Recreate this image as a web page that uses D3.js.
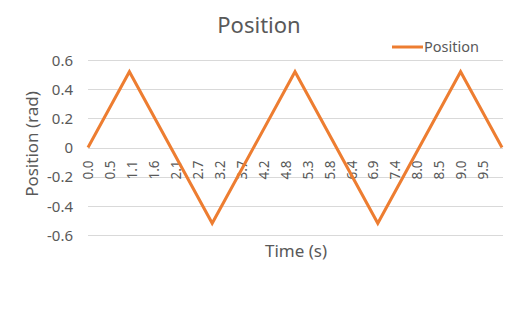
<!DOCTYPE html>
<meta charset="utf-8">
<html>
<head>
<title>Position</title>
<style>
  body { margin: 0; background: #fff; }
  svg text { font-family: "Noto Sans", "Open Sans", sans-serif; fill: #595959; }
</style>
</head>
<body>
<div id="chart"></div>
<script src="https://d3js.org/d3.v7.min.js"></script>
<script>
// time (s) at each corner of the position trace
var times = [0, 1, 3, 5, 7, 9, 10];
// position (rad)
var positions = [0, 0.52, -0.52, 0.52, -0.52, 0.52, 0];

// category labels shown along the x axis and the times they sit at
var tickTimes = [0.00, 0.53, 1.06, 1.59, 2.12, 2.65, 3.18, 3.71, 4.24, 4.77,
                 5.30, 5.83, 6.36, 6.89, 7.42, 7.95, 8.48, 9.01, 9.54];
var tickLabels = ["0.0", "0.5", "1.1", "1.6", "2.1", "2.7", "3.2", "3.7", "4.2", "4.8",
                  "5.3", "5.8", "6.4", "6.9", "7.4", "8.0", "8.5", "9.0", "9.5"];
var yTicks = [-0.6, -0.4, -0.2, 0, 0.2, 0.4, 0.6];

var width = 515, height = 312;
var plot = {left: 88, right: 502, top: 60, bottom: 235};

var svg = d3.select("#chart").append("svg")
    .attr("width", width)
    .attr("height", height);

var x = d3.scaleLinear().domain([0, 10]).range([plot.left, plot.right]);
var y = d3.scaleLinear().domain([-0.6, 0.6]).range([plot.bottom, plot.top]);

// gridlines
svg.append("g")
  .selectAll("line")
  .data(yTicks)
  .enter()
  .append("line")
    .attr("x1", plot.left)
    .attr("x2", plot.right + 1)
    .attr("y1", function(d) { return Math.round(y(d)) + 0.5; })
    .attr("y2", function(d) { return Math.round(y(d)) + 0.5; })
    .style("stroke", "#d9d9d9")
    .style("stroke-width", 1);

// y axis labels
var yAxis = d3.axisLeft(y)
    .tickValues(yTicks)
    .tickSize(0)
    .tickPadding(0)
    .tickFormat(function(d) { return d === 0 ? "0" : d3.format(".1f")(d).replace("−", "-"); });
var yg = svg.append("g")
    .attr("transform", "translate(73,0)")
    .call(yAxis);
yg.select(".domain").remove();
yg.selectAll("text")
    .style("font-size", "15px")
    .style("fill", "#595959")
    .attr("dy", "0.35em");

// x axis labels, rotated, hanging below the zero line
var xAxis = d3.axisBottom(x)
    .tickValues(tickTimes)
    .tickSize(0)
    .tickPadding(0)
    .tickFormat(function(d, i) { return tickLabels[i]; });
var xg = svg.append("g")
    .attr("transform", "translate(0," + y(0) + ")")
    .call(xAxis);
xg.select(".domain").remove();
xg.selectAll("text")
    .style("font-size", "13.5px")
    .style("fill", "#595959")
    .style("text-anchor", "end")
    .attr("transform", "rotate(-90)")
    .attr("x", -13)
    .attr("y", 0)
    .attr("dy", "0.35em");

// the series
var line = d3.line()
    .x(function(d, i) { return x(times[i]); })
    .y(function(d) { return y(d); });
svg.append("path")
    .datum(positions)
    .attr("d", line)
    .attr("fill", "none")
    .attr("stroke", "#ed7d31")
    .attr("stroke-width", 3)
    .attr("stroke-linejoin", "miter");

// title
svg.append("text")
    .attr("x", 259)
    .attr("y", 33)
    .attr("text-anchor", "middle")
    .style("font-size", "22px")
    .text("Position");

// axis titles
svg.append("text")
    .attr("transform", "translate(38,144) rotate(-90)")
    .attr("text-anchor", "middle")
    .style("font-size", "17px")
    .text("Position (rad)");

svg.append("text")
    .attr("x", 296)
    .attr("y", 257)
    .attr("text-anchor", "middle")
    .style("font-size", "17px")
    .text("Time (s)");

// legend
svg.append("line")
    .attr("x1", 392)
    .attr("x2", 423)
    .attr("y1", 47)
    .attr("y2", 47)
    .attr("stroke", "#ed7d31")
    .attr("stroke-width", 3);
svg.append("text")
    .attr("x", 424)
    .attr("y", 52)
    .style("font-size", "14.5px")
    .text("Position");
</script>
</body>
</html>
